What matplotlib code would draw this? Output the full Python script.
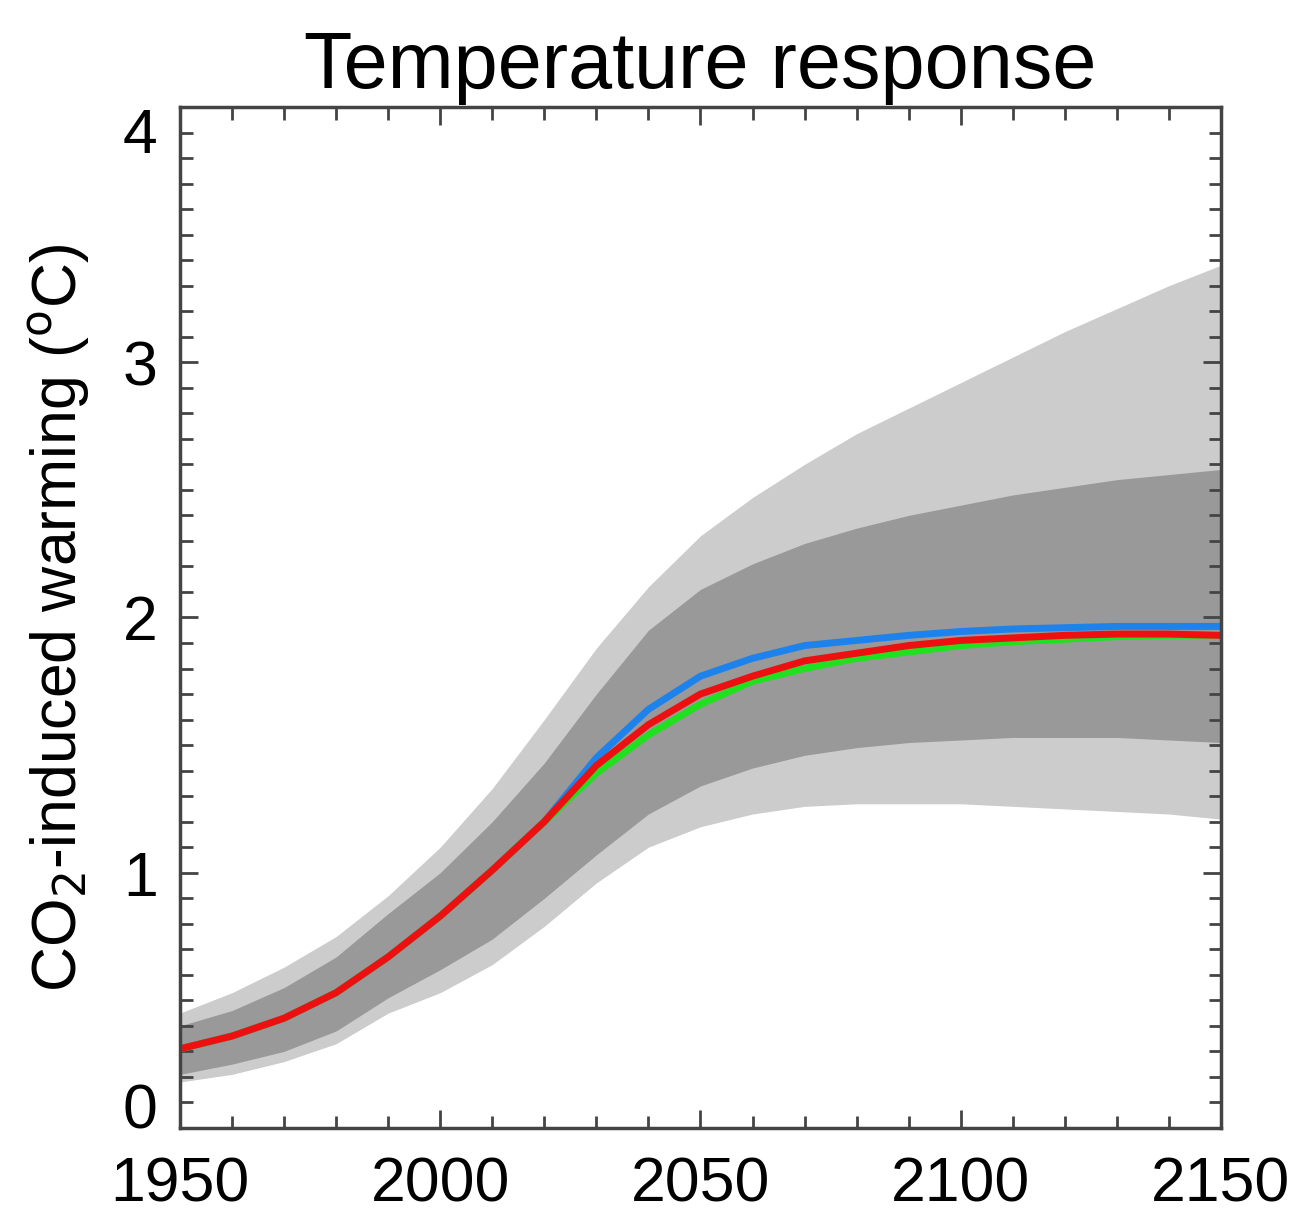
import matplotlib
matplotlib.use('Agg')
import matplotlib.pyplot as plt
from matplotlib.ticker import MultipleLocator
from matplotlib.transforms import ScaledTranslation

plt.rcParams['font.family'] = ['Liberation Sans', 'DejaVu Sans']

# --- data (decadal) ---
years = [1950, 1960, 1970, 1980, 1990, 2000, 2010, 2020, 2030, 2040, 2050,
         2060, 2070, 2080, 2090, 2100, 2110, 2120, 2130, 2140, 2150]

light_hi = [0.45, 0.53, 0.63, 0.75, 0.91, 1.10, 1.33, 1.60, 1.88, 2.12, 2.32,
            2.47, 2.60, 2.72, 2.82, 2.92, 3.02, 3.12, 3.21, 3.30, 3.38]
dark_hi = [0.40, 0.46, 0.55, 0.67, 0.84, 1.00, 1.20, 1.43, 1.70, 1.95, 2.11,
           2.21, 2.29, 2.35, 2.40, 2.44, 2.48, 2.51, 2.54, 2.56, 2.58]
dark_lo = [0.21, 0.25, 0.30, 0.38, 0.51, 0.62, 0.74, 0.90, 1.07, 1.23, 1.34,
           1.41, 1.46, 1.49, 1.51, 1.52, 1.53, 1.53, 1.53, 1.52, 1.51]
light_lo = [0.18, 0.21, 0.26, 0.33, 0.45, 0.53, 0.64, 0.79, 0.96, 1.10, 1.18,
            1.23, 1.26, 1.27, 1.27, 1.27, 1.26, 1.25, 1.24, 1.23, 1.21]

red = [0.31, 0.36, 0.43, 0.53, 0.67, 0.83, 1.01, 1.20, 1.42, 1.58, 1.70,
       1.77, 1.83, 1.86, 1.89, 1.91, 1.92, 1.93, 1.935, 1.935, 1.93]
blue = [0.31, 0.36, 0.43, 0.53, 0.67, 0.83, 1.01, 1.20, 1.45, 1.64, 1.77,
        1.84, 1.89, 1.91, 1.93, 1.945, 1.955, 1.96, 1.965, 1.965, 1.965]
green = [0.31, 0.36, 0.43, 0.53, 0.67, 0.83, 1.01, 1.20, 1.39, 1.54, 1.66,
         1.75, 1.80, 1.84, 1.865, 1.89, 1.905, 1.915, 1.925, 1.93, 1.93]

x_ticks = [1950, 2000, 2050, 2100, 2150]
y_ticks = [0, 1, 2, 3, 4]

AXC = '#444444'

fig = plt.figure(figsize=(13.1, 12.19), dpi=100)
ax = fig.add_axes([0.1374, 0.0747, 0.7946, 0.8375])

ax.fill_between(years, light_lo, light_hi, color='#cccccc', lw=0)
ax.fill_between(years, dark_lo, dark_hi, color='#999999', lw=0)
ax.plot(years, blue, color='#1e82ec', lw=5, solid_joinstyle='round')
ax.plot(years, green, color='#20e020', lw=5, solid_joinstyle='round')
ax.plot(years, red, color='#ee1010', lw=5, solid_joinstyle='round')

ax.set_xlim(1950, 2150)
ax.set_ylim(0, 4)
ax.set_xticks(x_ticks)
ax.set_yticks(y_ticks)
ax.xaxis.set_minor_locator(MultipleLocator(10))
ax.yaxis.set_minor_locator(MultipleLocator(0.1))
ax.tick_params(which='both', direction='in', top=True, right=True, color=AXC)
ax.tick_params(which='major', length=13, width=2)
ax.tick_params(which='minor', length=9, width=2)
ax.tick_params(axis='x', which='major', labelsize=45, pad=20)
ax.tick_params(axis='y', which='major', labelsize=45, pad=16)
for s in ax.spines.values():
    s.set_color(AXC)
    s.set_linewidth(2.5)

labs = ax.get_yticklabels()
labs[0].set_va('bottom')
labs[0].set_transform(labs[0].get_transform() +
                      ScaledTranslation(0, -0.14, fig.dpi_scale_trans))
labs[-1].set_va('top')

ax.set_ylabel('CO$_2$-induced warming ($^{\\rm o}$C)', fontsize=45)
ax.yaxis.set_label_coords(-0.085, 0.5)
ax.set_title('Temperature response', fontsize=57, pad=14)

fig.savefig('out.png', dpi=100, facecolor='white')
